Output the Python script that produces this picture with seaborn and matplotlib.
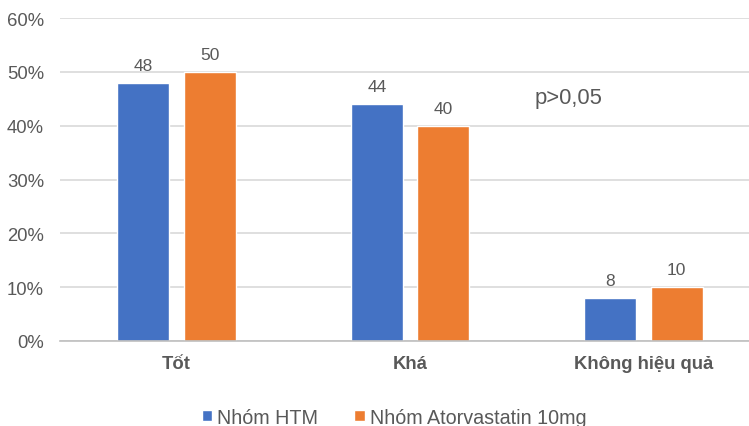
import pandas as pd
import matplotlib
matplotlib.use("Agg")
import matplotlib.pyplot as plt
import seaborn as sns
from matplotlib.patches import Patch

# data
categories = ["Tốt", "Khá", "Không hiệu quả"]
htm = [48, 44, 8]
atorva = [50, 40, 10]
groups = ["Nhóm HTM", "Nhóm Atorvastatin 10mg"]
colors = ["#4472C4", "#ED7D31"]

df = pd.DataFrame({
    "cat": categories * 2,
    "val": htm + atorva,
    "grp": [groups[0]] * 3 + [groups[1]] * 3,
})

sns.set_style("white")
plt.rcParams["font.family"] = ["Liberation Sans", "DejaVu Sans"]
txt = "#595959"

fig = plt.figure(figsize=(7.49, 4.27), dpi=100)
ax = fig.add_axes([60 / 749, 1 - 342 / 427, 700 / 749, (342 - 19) / 427])

sns.barplot(data=df, x="cat", y="val", hue="grp", palette=colors,
            width=0.57, gap=0.22, ax=ax, legend=False, saturation=1)

for c in ax.containers:
    ax.bar_label(c, labels=[f"{v:.0f}" for v in c.datavalues],
                 padding=7, fontsize=12.5, color=txt)

ax.set_ylim(0, 60)
ax.set_xlim(-0.5, 2.5)
ax.set_yticks(range(0, 61, 10))
ax.set_yticklabels([f"{t}%" for t in range(0, 61, 10)], fontsize=13.3, color=txt)
ax.yaxis.grid(True, color="#d9d9d9", linewidth=1.2)
ax.set_axisbelow(True)
for s in ["top", "right", "left"]:
    ax.spines[s].set_visible(False)
ax.spines["bottom"].set_color("#bfbfbf")
ax.spines["bottom"].set_linewidth(1.2)
ax.tick_params(axis="y", length=0, pad=11.5)
ax.tick_params(axis="x", length=0, pad=10)
for lbl in ax.get_xticklabels():
    lbl.set_fontweight("bold")
    lbl.set_fontsize(13.3)
    lbl.set_color(txt)
ax.set_xlabel("")
ax.set_ylabel("")

ax.text(1.534, 45.3, "p>0,05", fontsize=15.8, color=txt, va="center", ha="left")

handles = [Patch(facecolor=c, label=g) for c, g in zip(colors, groups)]
fig.legend(handles=handles, loc="center", bbox_to_anchor=(0.526, 0.021),
           ncol=2, frameon=False, fontsize=14.2, handlelength=0.55,
           handleheight=0.55, handletextpad=0.25, columnspacing=1.8,
           labelcolor=txt, borderpad=0)

fig.savefig("out.png", dpi=100)
